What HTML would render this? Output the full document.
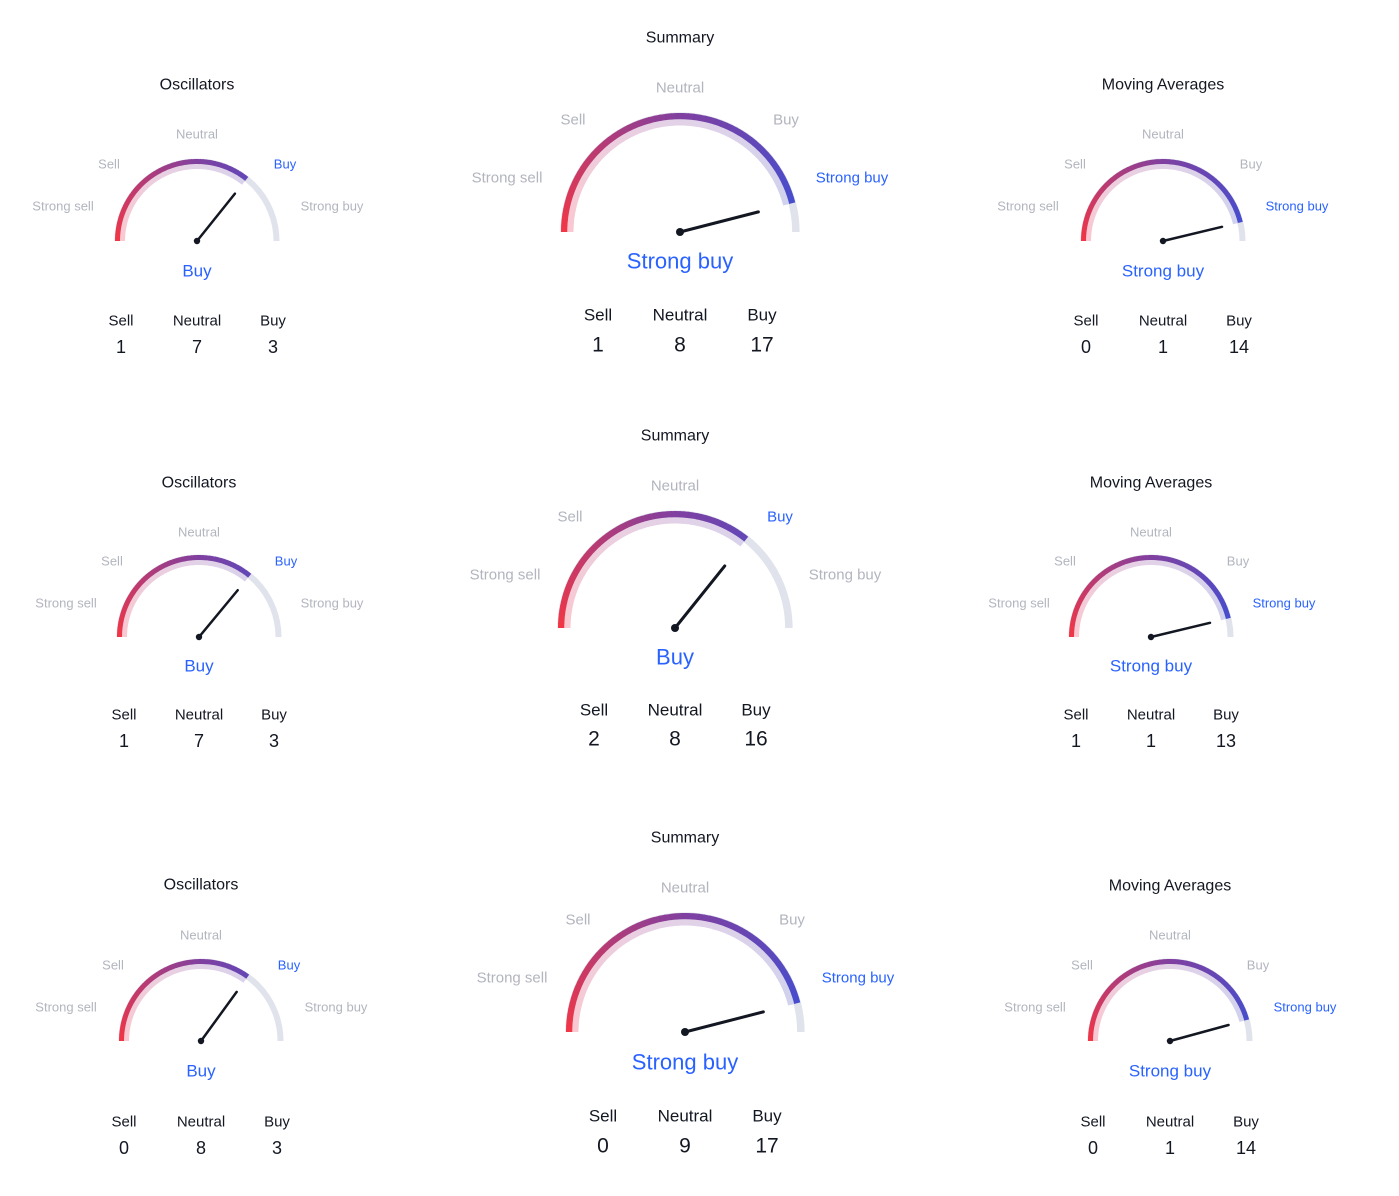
<!DOCTYPE html>
<html><head><meta charset="utf-8"><style>
body{margin:0;background:#fff;}
svg{display:block;font-family:"Liberation Sans","DejaVu Sans",sans-serif;}
</style></head><body>
<svg id="chart" width="1399" height="1196" viewBox="0 0 1399 1196"></svg>
<script>
// data
const titles=["Oscillators","Summary","Moving Averages","Oscillators","Summary","Moving Averages","Oscillators","Summary","Moving Averages"];
const ratings=["Buy","Strong buy","Strong buy","Buy","Buy","Strong buy","Buy","Strong buy","Strong buy"];
const scores=[0.43,0.84,0.85,0.44,0.43,0.85,0.40,0.84,0.83]; // -1 strong sell .. 1 strong buy
const sellCounts=[1,1,0,1,2,1,0,0,0];
const neutralCounts=[7,8,1,7,8,1,8,9,1];
const buyCounts=[3,17,14,3,16,13,3,17,14];
const labelNames=["Strong sell","Sell","Neutral","Buy","Strong buy"];
// layout
const layout=[
 {cx:197,cy:241,r:82,big:0,ty:85,ry:271,hy:321,vy:347,cols:[121,197,273],lab:[[63,206],[109,164],[197,134],[285,164],[332,206]]},
 {cx:680,cy:232,r:119,big:1,ty:38,ry:261,hy:315,vy:345,cols:[598,680,762],lab:[[507,178],[573,120],[680,88],[786,120],[852,178]]},
 {cx:1163,cy:241,r:82,big:0,ty:85,ry:271,hy:321,vy:347,cols:[1086,1163,1239],lab:[[1028,206],[1075,164],[1163,134],[1251,164],[1297,206]]},
 {cx:199,cy:637,r:82,big:0,ty:483,ry:666,hy:715,vy:741,cols:[124,199,274],lab:[[66,603],[112,561],[199,532],[286,561],[332,603]]},
 {cx:675,cy:628,r:117,big:1,ty:436,ry:657,hy:710,vy:739,cols:[594,675,756],lab:[[505,575],[570,517],[675,486],[780,517],[845,575]]},
 {cx:1151,cy:637,r:82,big:0,ty:483,ry:666,hy:715,vy:741,cols:[1076,1151,1226],lab:[[1019,603],[1065,561],[1151,532],[1238,561],[1284,603]]},
 {cx:201,cy:1041,r:82,big:0,ty:885,ry:1071,hy:1122,vy:1148,cols:[124,201,277],lab:[[66,1007],[113,965],[201,935],[289,965],[336,1007]]},
 {cx:685,cy:1032,r:119,big:1,ty:838,ry:1062,hy:1116,vy:1146,cols:[603,685,767],lab:[[512,978],[578,920],[685,888],[792,920],[858,978]]},
 {cx:1170,cy:1041,r:82,big:0,ty:886,ry:1071,hy:1122,vy:1148,cols:[1093,1170,1246],lab:[[1035,1007],[1082,965],[1170,935],[1258,965],[1305,1007]]}
];
const NS="http://www.w3.org/2000/svg";
const svg=document.getElementById('chart');
function mk(tag,attrs,parent){const e=document.createElementNS(NS,tag);for(const k in attrs)e.setAttribute(k,attrs[k]);(parent||svg).appendChild(e);return e;}
function txt(x,y,s,size,fill,weight,parent,name){const t=mk('text',{x:x,y:y,'text-anchor':'middle','dominant-baseline':'central','font-size':size,fill:fill,'font-weight':weight||'normal'},parent);t.textContent=s;


return t;}
function lerp(a,b,t){return a.map((v,i)=>Math.round(v+(b[i]-v)*t));}
function col(t){const R=[242,54,69],P=[128,64,160],B=[60,80,214];return t<0.5?lerp(R,P,t*2):lerp(P,B,(t-0.5)*2);}
function pale(t){const R=[250,200,208],P=[226,210,232],B=[206,210,238];return t<0.5?lerp(R,P,t*2):lerp(P,B,(t-0.5)*2);}
function pt(cx,cy,r,a){const th=Math.PI*(1-a/180);return [cx+r*Math.cos(th),cy-r*Math.sin(th)];}
function arc(g,cx,cy,r,a0,a1,stroke,w){const p0=pt(cx,cy,r,a0),p1=pt(cx,cy,r,a1);
 return mk('path',{d:`M${p0[0]} ${p0[1]} A${r} ${r} 0 0 1 ${p1[0]} ${p1[1]}`,fill:'none',stroke:stroke,'stroke-width':w},g);}
layout.forEach((L,i)=>{
 const g=mk('g',{});
 
 
 const s=L.big?1.45:1;
 txt(L.cx,L.ty,titles[i],L.big?16:16,'#131722','normal',g,'gauge-title');
 const ang=(scores[i]+1)/2*180;
 const w=5*(L.big?1.25:1);
 // gray base
 arc(g,L.cx,L.cy,L.r-w*0.5,0,180,'#e0e3eb',w*1.2);
 // coloured segments
 const N=60;
 for(let k=0;k<N;k++){const a0=ang*k/N,a1=ang*(k+1)/N+0.5,t=((a0+a1)/2)/180;
  const c=col(t),p=pale(t);
  arc(g,L.cx,L.cy,L.r-w*1.5,a0,Math.min(a1,ang),`rgb(${p})`,w);
  arc(g,L.cx,L.cy,L.r-w*0.5,a0,Math.min(a1,ang),`rgb(${c})`,w);}
 // needle
 const tip=pt(L.cx,L.cy,L.r*(L.big?0.68:0.74),ang);
 const nd=mk('line',{x1:L.cx,y1:L.cy,x2:tip[0],y2:tip[1],stroke:'#131722','stroke-width':L.big?3:2.5,'stroke-linecap':'round'},g);
 
 
 const hub=mk('circle',{cx:L.cx,cy:L.cy,r:L.big?4:3.2,fill:'#131722'},g);
 
 
 labelNames.forEach((n,j)=>{const act=n===ratings[i];
  txt(L.lab[j][0],L.lab[j][1],n,L.big?15:13,act?'#2962ff':'#b2b5be','normal',g,'scale-label');});
 txt(L.cx,L.ry,ratings[i],L.big?22:17,'#2962ff','normal',g,'rating-label');
 const hs=L.big?17:15,vs=L.big?21:18;
 ['Sell','Neutral','Buy'].forEach((h,j)=>txt(L.cols[j],L.hy,h,hs,'#131722','normal',g,'count-header'));
 [sellCounts[i],neutralCounts[i],buyCounts[i]].forEach((v,j)=>txt(L.cols[j],L.vy,String(v),vs,'#131722','normal',g,'count-value'));
});
</script>
</body></html>
